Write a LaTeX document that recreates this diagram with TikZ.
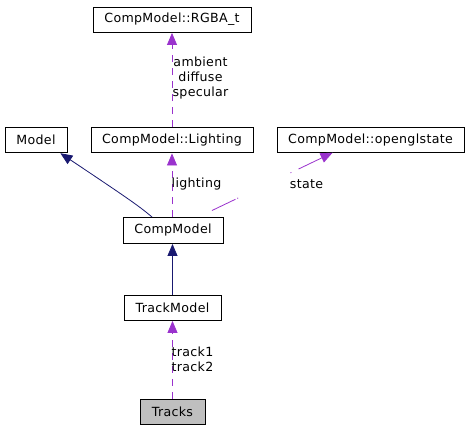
\documentclass[tikz,border=0pt]{standalone}
\usepackage{fontspec}
\setmainfont[LetterSpace=2.5]{DejaVu Sans}
\usetikzlibrary{arrows.meta}
\definecolor{navy}{RGB}{25,25,112}
\definecolor{orchid}{RGB}{154,50,205}
\definecolor{boxgray}{RGB}{191,191,191}
\begin{document}
\begin{tikzpicture}[x=1pt,y=-1pt,
  font=\fontsize{12.6}{15}\selectfont,
  cls/.style={draw=black,line width=0.9pt,inner sep=0pt,minimum height=25pt,fill=white},
  inh/.style={draw=navy,line width=0.8pt,-{Triangle[length=12pt,width=10pt]},shorten >=0.5pt},
  use/.style={draw=orchid,line width=0.8pt,dash pattern=on 7pt off 6pt,-{Triangle[length=12pt,width=10pt]},shorten >=0.5pt},
  lbl/.style={inner sep=0pt,align=center}]
\useasboundingbox (0,0) rectangle (469,429);
\node[cls,minimum width=158pt] (rgba) at (172,19.5) {CompModel::RGBA\_t};
\node[cls,minimum width=62pt] (model) at (36,140) {Model};
\node[cls,minimum width=162pt] (light) at (172,140) {CompModel::Lighting};
\node[cls,minimum width=187pt] (gl) at (370.5,140) {CompModel::openglstate};
\node[cls,minimum width=100pt,minimum height=26pt] (comp) at (173,230) {CompModel};
\node[cls,minimum width=97pt] (track) at (172.5,307.5) {TrackModel};
\node[cls,minimum width=65pt,fill=boxgray] (tracks) at (172.5,411.5) {Tracks};
\coordinate (c1) at (152,217);
\coordinate (c2) at (172,217);
\coordinate (c3) at (212,210.5);
\draw[inh] (c1) .. controls (140,207) and (135,203) .. (model.south -| 60,0);
\draw[use] (c2) -- (light.south -| 172,0);
\draw[use] (light.north -| 172,0) -- (rgba.south -| 172,0);
\draw[draw=orchid,line width=0.8pt,dash pattern=on 26pt off 2pt on 1pt off 58pt on 1pt off 8pt on 60pt,-{Triangle[length=12pt,width=10pt]},shorten >=0.5pt] (c3) -- (333,152.5);
\draw[inh] (track.north -| 172.5,0) -- (comp.south -| 172.5,0);
\draw[use] (tracks.north -| 172.5,0) -- (track.south -| 172.5,0);
\node[lbl] (lAmb) at (200.5,78) {ambient\\diffuse\\specular};
\node[lbl,anchor=west] (lLight) at (171.5,184) {lighting};
\node[lbl] (lState) at (306.5,184) {state};
\node[lbl,anchor=west] (lTrack) at (171.5,359) {track1\\track2};
\end{tikzpicture}
\end{document}
